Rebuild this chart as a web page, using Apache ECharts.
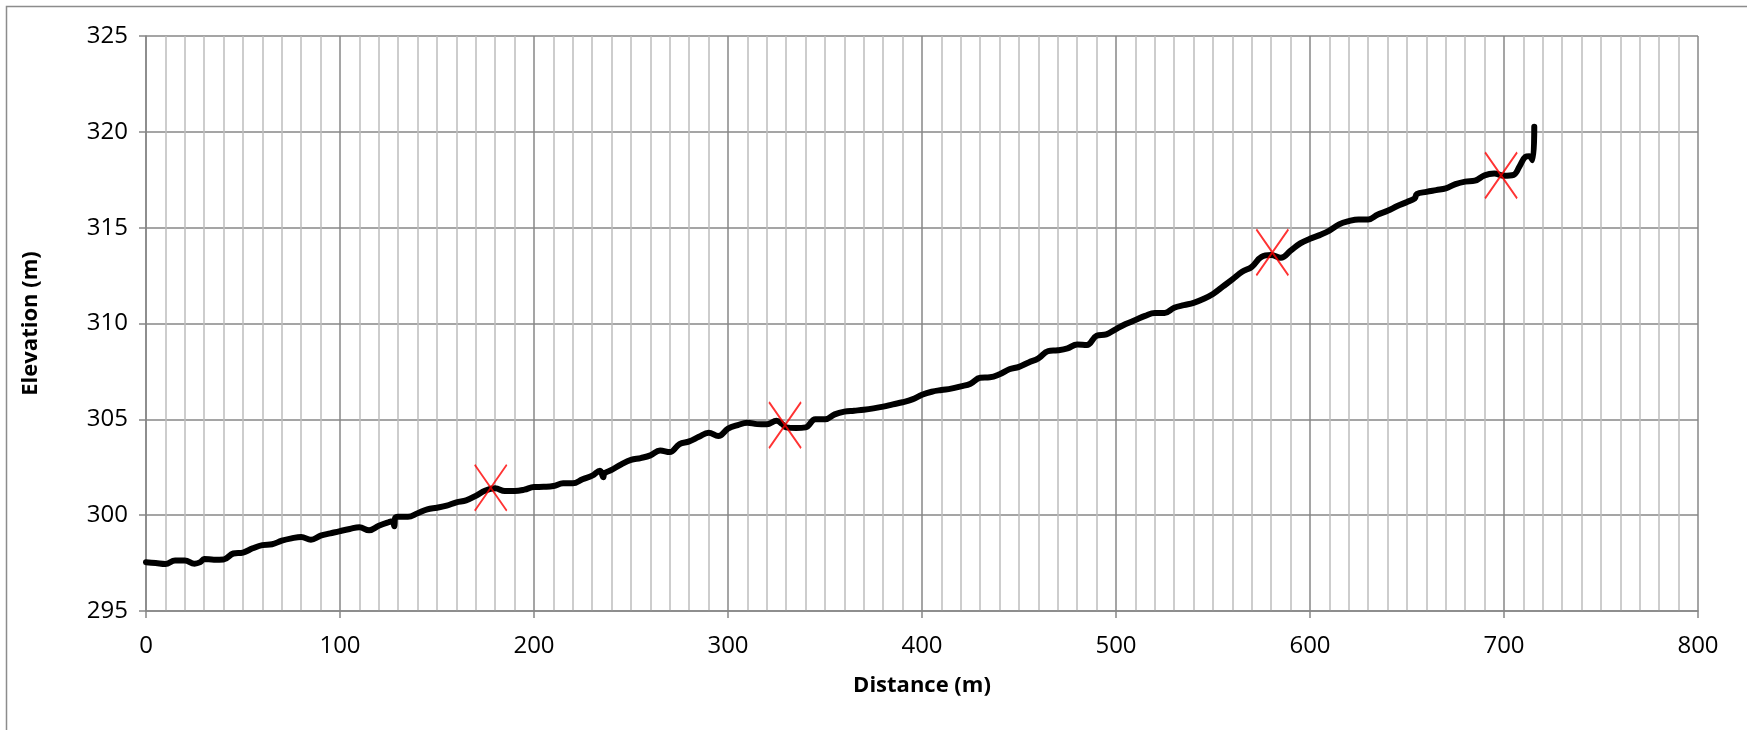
<!DOCTYPE html>
<html>
<head>
<meta charset="utf-8">
<title>Elevation profile</title>
<script src="https://cdn.jsdelivr.net/npm/echarts@6/dist/echarts.min.js"></script>
<style>
  html, body { margin: 0; padding: 0; background: #fff; }
  #chart { width: 1747px; height: 730px; }
</style>
</head>
<body>
<div id="chart"></div>
<script>
// profile (distance in m, elevation in m)
var distance = [0,5,10,15,20,25,28,30,35,40,45,50,55,60,65,70,75,80,85,90,95,100,
  105,110,115,120,125,127,128,128.4,130,135,140,145,150,155,160,165,170,175,180,185,190,195,200,
  205,210,215,220,225,230,234,235.7,236.3,240,245,250,255,260,265,270,275,280,285,290,295,300,
  305,310,315,320,325,328,330,335,340,345,350,355,360,365,370,375,380,385,390,395,400,
  405,410,415,420,425,430,435,440,445,450,455,460,465,470,475,480,485,490,495,500,
  505,510,515,520,525,530,535,540,545,550,555,560,565,570,575,580,585,590,595,600,
  605,610,615,620,625,630,635,640,645,650,654,655,660,665,670,675,680,685,690,695,700,
  705,708,711,713,714.8,715.6];
var elevation = [297.54,297.50,297.45,297.64,297.64,297.47,297.55,297.71,297.68,297.69,298.00,298.05,298.27,298.44,298.48,298.67,298.79,298.86,298.72,298.93,299.05,299.17,
  299.28,299.37,299.21,299.45,299.63,299.68,299.42,299.85,299.92,299.92,300.10,300.30,300.39,300.50,300.67,300.77,301.01,301.29,301.40,301.26,301.26,301.33,301.47,
  301.48,301.52,301.66,301.66,301.87,302.06,302.32,301.98,302.18,302.36,302.65,302.88,302.98,303.12,303.38,303.29,303.71,303.85,304.09,304.30,304.13,304.51,
  304.70,304.82,304.75,304.74,304.93,304.75,304.58,304.55,304.58,305.00,305.00,305.26,305.40,305.45,305.50,305.57,305.66,305.78,305.89,306.04,306.28,
  306.44,306.53,306.60,306.72,306.86,307.17,307.19,307.35,307.61,307.74,307.97,308.18,308.56,308.60,308.70,308.91,308.88,309.36,309.43,309.71,
  309.97,310.18,310.40,310.55,310.55,310.82,310.96,311.08,311.28,311.54,311.92,312.30,312.70,312.96,313.48,313.57,313.43,313.80,314.18,314.42,
  314.61,314.84,315.17,315.34,315.43,315.43,315.69,315.88,316.13,316.34,316.53,316.75,316.87,316.96,317.05,317.27,317.40,317.45,317.73,317.82,317.71,
  317.76,318.20,318.69,318.73,318.52,320.26];

// red cross marks
var markDist = [177.7, 329.4, 580.6, 698.5];
var markElev = [301.43, 304.70, 313.71, 317.73];

var profile = distance.map(function (d, i) { return [d, elevation[i]]; });
var marks = markDist.map(function (d, i) { return [d, markElev[i]]; });

var majorGrid = '#878787';
var minorGrid = '#bdbdbd';
var font = '"Open Sans", "Liberation Sans", sans-serif';

var chart = echarts.init(document.getElementById('chart'));
var option = {
    animation: false,
    backgroundColor: '#fff',
    graphic: [{
        type: 'rect',
        shape: { x: 6.5, y: 6.5, width: 1760, height: 760 },
        style: { fill: 'none', stroke: '#8c8c8c', lineWidth: 1.5 },
        silent: true
    }],
    grid: { left: 146, right: 49, top: 36, bottom: 119 },
    xAxis: {
        type: 'value',
        min: 0, max: 800, interval: 100,
        name: 'Distance (m)',
        nameLocation: 'middle',
        nameGap: 64,
        nameTextStyle: { fontFamily: font, fontSize: 22, fontWeight: 'bold', color: '#000' },
        axisLine: { show: true, lineStyle: { color: majorGrid, width: 1.5 } },
        axisTick: { show: true, length: 7, lineStyle: { color: majorGrid, width: 1.5 } },
        axisLabel: { fontFamily: font, fontSize: 24, color: '#000', margin: 23 },
        splitLine: { show: true, lineStyle: { color: majorGrid, width: 1.5 } },
        minorTick: { show: false, splitNumber: 10 },
        minorSplitLine: { show: true, lineStyle: { color: minorGrid, width: 1.5 } }
    },
    yAxis: {
        type: 'value',
        min: 295, max: 325, interval: 5,
        name: 'Elevation (m)',
        nameLocation: 'middle',
        nameGap: 104,
        nameTextStyle: { fontFamily: font, fontSize: 22, fontWeight: 'bold', color: '#000' },
        axisLine: { show: true, lineStyle: { color: majorGrid, width: 1.5 } },
        axisTick: { show: true, length: 7, lineStyle: { color: majorGrid, width: 1.5 } },
        axisLabel: { fontFamily: font, fontSize: 24, color: '#000', margin: 18 },
        splitLine: { show: true, lineStyle: { color: majorGrid, width: 1.5 } }
    },
    series: [
        {
            name: 'Profile',
            type: 'line',
            data: profile,
            showSymbol: false,
            smooth: 0.4,
            lineStyle: { color: '#000', width: 6, cap: 'round', join: 'round' },
            z: 3
        },
        {
            name: 'Marks',
            type: 'scatter',
            data: marks,
            symbol: 'path://M0,0L10,14M10,0L0,14',
            symbolSize: [32, 46],
            itemStyle: { color: 'none', borderColor: '#ff0000', borderWidth: 2 },
            z: 4
        }
    ]
};
chart.setOption(option);
</script>
</body>
</html>
